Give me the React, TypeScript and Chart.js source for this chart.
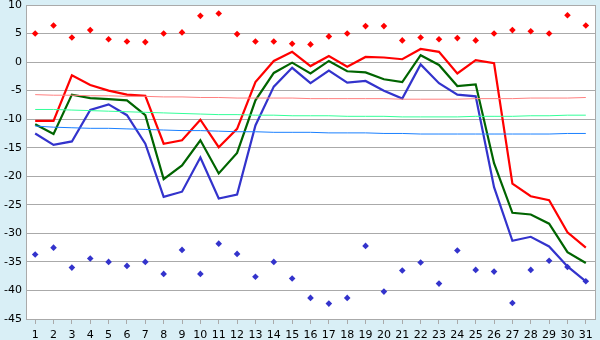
import React, { useEffect, useRef } from "react";
import { Chart, registerables } from "chart.js";

Chart.register(...registerables);

const days = Array.from({ length: 31 }, (_, i) => String(i + 1));

const maxTemp = [-10.3, -10.3, -2.3, -4.0, -5.0, -5.7, -5.9, -14.3, -13.7, -10.1, -14.9, -11.7, -3.5, 0.2, 1.8, -0.7, 1.05, -0.8, 0.9, 0.8, 0.5, 2.3, 1.8, -2.0, 0.35, -0.2, -21.3, -23.5, -24.2, -29.8, -32.5];
const meanTemp = [-10.9, -12.6, -5.7, -6.3, -6.5, -6.7, -9.3, -20.5, -18.1, -13.7, -19.5, -15.9, -6.7, -1.9, -0.1, -2.0, 0.2, -1.6, -1.8, -3.0, -3.5, 1.2, -0.5, -4.2, -3.9, -17.7, -26.4, -26.7, -28.3, -33.3, -35.2];
const minTemp = [-12.5, -14.5, -13.9, -8.4, -7.4, -9.3, -14.3, -23.6, -22.7, -16.7, -23.9, -23.2, -11.1, -4.3, -1.0, -3.7, -1.5, -3.6, -3.3, -5.0, -6.4, -0.4, -3.7, -5.7, -6.0, -21.9, -31.3, -30.6, -32.3, -35.8, -38.4];

const normalMax = [-5.7, -5.8, -5.8, -5.9, -5.9, -6.0, -6.0, -6.1, -6.1, -6.2, -6.2, -6.3, -6.3, -6.3, -6.3, -6.4, -6.4, -6.4, -6.4, -6.4, -6.5, -6.5, -6.5, -6.5, -6.4, -6.4, -6.4, -6.3, -6.3, -6.3, -6.2];
const normalMean = [-8.3, -8.3, -8.4, -8.5, -8.6, -8.7, -8.8, -8.9, -9.0, -9.1, -9.2, -9.2, -9.3, -9.3, -9.4, -9.4, -9.4, -9.5, -9.5, -9.5, -9.6, -9.6, -9.6, -9.6, -9.5, -9.5, -9.5, -9.4, -9.4, -9.3, -9.3];
const normalMin = [-11.2, -11.4, -11.5, -11.6, -11.6, -11.7, -11.8, -11.9, -12.0, -12.0, -12.1, -12.2, -12.2, -12.3, -12.3, -12.3, -12.4, -12.4, -12.4, -12.5, -12.5, -12.6, -12.6, -12.6, -12.6, -12.6, -12.6, -12.6, -12.6, -12.5, -12.5];

const recordMax = [5.0, 6.4, 4.3, 5.6, 4.0, 3.6, 3.5, 5.0, 5.2, 8.1, 8.5, 4.9, 3.6, 3.6, 3.2, 3.1, 4.5, 5.0, 6.3, 6.3, 3.8, 4.3, 4.0, 4.2, 3.8, 5.0, 5.6, 5.4, 5.0, 8.2, 6.4];
const recordMin = [-33.7, -32.5, -36.0, -34.4, -35.0, -35.7, -35.0, -37.1, -32.9, -37.1, -31.8, -33.6, -37.6, -35.0, -37.9, -41.3, -42.3, -41.3, -32.2, -40.2, -36.5, -35.1, -38.8, -33.0, -36.4, -36.7, -42.2, -36.4, -34.8, -35.9, -38.4];

const yMin = -45;
const yMax = 10;
const yStep = 5;

const plotBg = {
  id: "plotBg",
  beforeDraw(chart: any) {
    const { ctx, chartArea } = chart;
    ctx.save();
    ctx.fillStyle = "#ffffff";
    ctx.fillRect(chartArea.left, chartArea.top, chartArea.right - chartArea.left, chartArea.bottom - chartArea.top);
    ctx.restore();
  },
  afterDraw(chart: any) {
    const { ctx, chartArea } = chart;
    ctx.save();
    ctx.strokeStyle = "#aaaaaa";
    ctx.lineWidth = 1;
    ctx.beginPath();
    const x = Math.round(chartArea.right) + 0.5;
    ctx.moveTo(x, chartArea.top);
    ctx.lineTo(x, chartArea.bottom);
    ctx.stroke();
    ctx.restore();
  },
};

export default function App() {
  const ref = useRef<HTMLCanvasElement>(null);
  useEffect(() => {
    document.body.style.margin = "0";
    const line = (data: number[], color: string, width: number) => ({
      type: "line" as const,
      data,
      borderColor: color,
      backgroundColor: color,
      borderWidth: width,
      pointRadius: 0,
      tension: 0,
      fill: false,
    });
    const pts = (data: number[], color: string) => ({
      type: "line" as const,
      data,
      borderColor: color,
      backgroundColor: color,
      showLine: false,
      pointStyle: "rectRot" as const,
      pointRadius: 3.3,
      pointBorderWidth: 0,
    });
    const chart = new Chart(ref.current!, {
      type: "line",
      data: {
        labels: days,
        datasets: [
          line(normalMax, "#ff8080", 1),
          line(normalMean, "#33ff99", 1),
          line(normalMin, "#1a80ff", 1),
          line(maxTemp, "#ff0000", 2.2),
          line(meanTemp, "#006400", 2.2),
          line(minTemp, "#3333cc", 2.2),
          pts(recordMax, "#ff0000"),
          pts(recordMin, "#3333cc"),
        ] as any,
      },
      options: {
        animation: false,
        responsive: false,
        maintainAspectRatio: false,
        layout: { padding: { top: 5, right: 5, left: 0, bottom: 0 } },
        plugins: { legend: { display: false }, tooltip: { enabled: false } },
        scales: {
          x: {
            offset: true,
            grid: { drawOnChartArea: false, drawTicks: true, tickLength: 5, color: "#aaaaaa" },
            border: { color: "#aaaaaa" },
            ticks: { color: "#000", font: { family: "DejaVu Sans", size: 11 }, padding: 5, maxRotation: 0, autoSkip: false },
            afterFit(s: any) { s.height = 21; s.paddingLeft = 0; s.paddingRight = 0; },
          },
          y: {
            min: yMin,
            max: yMax,
            ticks: { stepSize: yStep, color: "#000", font: { family: "DejaVu Sans", size: 11 }, padding: 4 },
            grid: { color: "#aaaaaa", drawTicks: false },
            border: { color: "#aaaaaa" },
            afterFit(s: any) { s.width = 26; s.paddingTop = 0; s.paddingBottom = 0; },
          },
        },
      },
      plugins: [plotBg],
    });
    return () => chart.destroy();
  }, []);
  return (
    <div style={{ position: "fixed", left: 0, top: 0, width: 600, height: 340, background: "#d9eff6" }}>
      <canvas ref={ref} width={600} height={340} style={{ display: "block" }} />
    </div>
  );
}
